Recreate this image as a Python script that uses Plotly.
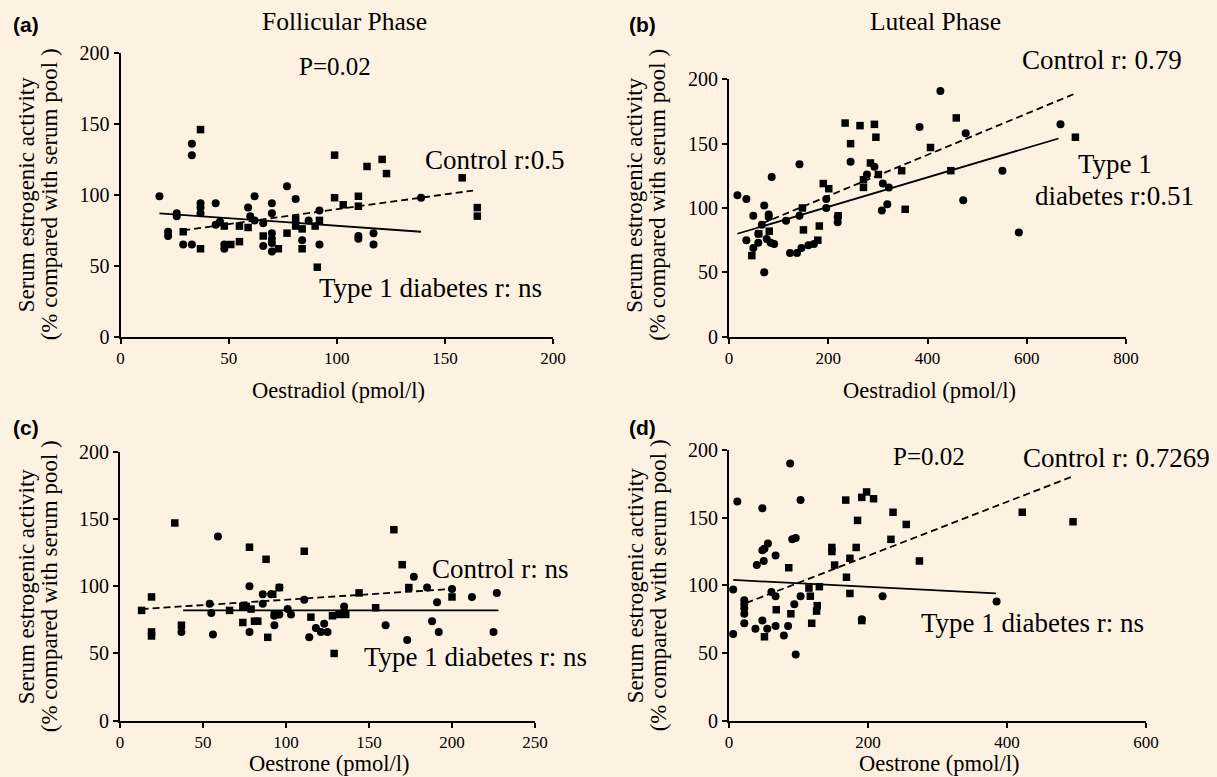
import plotly.graph_objects as go

# ---------------- data ----------------
# Panel (a) Follicular phase, oestradiol
a_t1d_x = [18, 22, 22, 26, 26, 29, 33, 33, 33, 37, 37, 37, 44, 44, 46, 48, 48, 59, 60, 62, 62, 66, 66,
           70, 70, 70, 70, 70, 70, 77, 81, 84, 87, 92, 92, 110, 110, 117, 117, 139]
a_t1d_y = [99, 74, 71, 87, 85, 65, 136, 128, 65, 94, 91, 87, 94, 79, 81, 65, 62, 91, 85, 99, 82, 80, 64,
           94, 87, 73, 69, 66, 60, 106, 97, 68, 82, 89, 65, 71, 69, 73, 65, 98]
a_ctl_x = [37, 99, 114, 121, 123, 158, 165, 165, 99, 103, 110, 110, 29, 37, 48, 51, 55, 55, 59, 66, 73,
           77, 81, 81, 84, 84, 91, 92, 90]
a_ctl_y = [146, 128, 120, 125, 115, 112, 91, 85, 98, 93, 99, 92, 74, 62, 78, 65, 78, 67, 77, 71, 62,
           73, 83, 78, 76, 62, 49, 82, 78]
a_t1d_fit_x = [18, 139]
a_t1d_fit_y = [87, 74]
a_ctl_fit_x = [29, 163]
a_ctl_fit_y = [75, 103]

# Panel (b) Luteal phase, oestradiol
b_t1d_x = [17, 35, 35, 49, 49, 59, 59, 66, 71, 71, 80, 80, 76, 84, 91, 86, 115, 123, 137, 142, 142, 146,
           160, 171, 196, 196, 219, 219, 245, 278, 293, 310, 322, 308, 319, 384, 426, 477, 472, 551, 584, 668]
b_t1d_y = [110, 107, 75, 94, 69, 80, 73, 87, 102, 50, 95, 93, 76, 73, 72, 124, 90, 65, 65, 134, 94, 69,
           71, 72, 107, 100, 93, 89, 136, 126, 132, 119, 116, 98, 103, 163, 191, 158, 106, 129, 81, 165]
b_ctl_x = [46, 60, 81, 150, 148, 182, 179, 190, 201, 234, 245, 264, 293, 296, 285, 271, 271, 301, 348,
           355, 406, 447, 458, 698, 220]
b_ctl_y = [63, 80, 82, 83, 100, 86, 75, 119, 115, 166, 150, 164, 165, 155, 135, 122, 116, 126, 129,
           99, 147, 129, 170, 155, 94]
b_t1d_fit_x = [17, 664]
b_t1d_fit_y = [80, 154]
b_ctl_fit_x = [67, 698]
b_ctl_fit_y = [88, 189]

# Panel (c) Follicular phase, oestrone
c_t1d_x = [37, 54, 55, 56, 59, 78, 78, 86, 86, 91, 93, 93, 96, 96, 101, 103, 111, 114, 118, 121, 125,
           123, 135, 135, 160, 173, 177, 185, 188, 191, 192, 200, 212, 225, 227]
c_t1d_y = [66, 87, 80, 64, 137, 100, 66, 94, 87, 94, 78, 71, 99, 79, 83, 79, 90, 62, 69, 66, 66,
           72, 85, 81, 71, 60, 107, 99, 74, 88, 66, 98, 92, 66, 95]
c_ctl_x = [13, 19, 19, 19, 33, 37, 66, 74, 74, 76, 78, 79, 81, 83, 88, 89, 92, 96, 93, 111, 115, 128,
           132, 136, 129, 144, 154, 165, 170, 174, 200]
c_ctl_y = [82, 92, 66, 63, 147, 71, 82, 85, 73, 85, 129, 83, 74, 74, 120, 62, 94, 99, 79, 126, 77, 78,
           79, 79, 50, 95, 84, 142, 116, 99, 92]
c_t1d_fit_x = [38, 228]
c_t1d_fit_y = [82, 82]
c_ctl_fit_x = [13, 200]
c_ctl_fit_y = [83, 98]

# Panel (d) Luteal phase, oestrone
d_t1d_x = [6, 6, 12, 22, 22, 22, 22, 22, 38, 40, 48, 48, 51, 56, 50, 48, 55, 67, 61, 67, 67, 79, 85,
           88, 91, 96, 94, 96, 103, 103, 221, 191, 385]
d_t1d_y = [97, 64, 162, 89, 86, 83, 79, 72, 68, 115, 157, 126, 127, 131, 118, 74, 68, 122, 95, 92, 70,
           63, 70, 190, 134, 135, 86, 49, 163, 92, 92, 75, 88]
d_ctl_x = [51, 68, 86, 89, 115, 117, 119, 126, 127, 130, 148, 148, 152, 168, 169, 174, 174, 183, 185,
           191, 198, 208, 191, 233, 236, 255, 274, 422, 495]
d_ctl_y = [62, 82, 113, 79, 98, 92, 72, 81, 85, 99, 128, 125, 115, 163, 106, 120, 94, 128, 148,
           165, 169, 164, 74, 134, 154, 145, 118, 154, 147]
d_t1d_fit_x = [6, 384]
d_t1d_fit_y = [104, 94]
d_ctl_fit_x = [25, 497]
d_ctl_fit_y = [87, 181]

x_ranges = [[0, 200], [0, 800], [0, 250], [0, 600]]
x_dticks = [50, 200, 50, 200]
x_titles = ["Oestradiol (pmol/l)", "Oestradiol (pmol/l)", "Oestrone (pmol/l)", "Oestrone (pmol/l)"]
y_title_1 = "Serum estrogenic activity"
y_title_2 = "(% compared with serum pool )"

# ---------------- layout helpers ----------------
W, H = 1217, 777
BG = "#FDF2E2"
SERIF = "Liberation Serif"


def px(x, y):
    return x / W, 1 - y / H


# plot-area pixel boxes (left, right, top, bottom)
boxes = [(120.5, 553, 53, 336.7), (729, 1126, 79.3, 336.7),
         (120, 535, 451.7, 720.7), (729, 1146, 450, 720.7)]
x_title_y = [390, 390, 763, 763]

panels = [
    (a_t1d_x, a_t1d_y, a_ctl_x, a_ctl_y, a_t1d_fit_x, a_t1d_fit_y, a_ctl_fit_x, a_ctl_fit_y),
    (b_t1d_x, b_t1d_y, b_ctl_x, b_ctl_y, b_t1d_fit_x, b_t1d_fit_y, b_ctl_fit_x, b_ctl_fit_y),
    (c_t1d_x, c_t1d_y, c_ctl_x, c_ctl_y, c_t1d_fit_x, c_t1d_fit_y, c_ctl_fit_x, c_ctl_fit_y),
    (d_t1d_x, d_t1d_y, d_ctl_x, d_ctl_y, d_t1d_fit_x, d_t1d_fit_y, d_ctl_fit_x, d_ctl_fit_y),
]

fig = go.Figure()
layout = dict(
    width=W, height=H, paper_bgcolor=BG, plot_bgcolor=BG, autosize=False,
    margin=dict(l=0, r=0, t=0, b=0, pad=0, autoexpand=False), showlegend=False,
    font=dict(family=SERIF, color="black"),
)

annotations = []
for i, (tx, ty, cx, cy, tfx, tfy, cfx, cfy) in enumerate(panels):
    n = "" if i == 0 else str(i + 1)
    xa, ya = "x" + n, "y" + n
    fig.add_trace(go.Scatter(x=tx, y=ty, mode="markers", xaxis=xa, yaxis=ya,
                             marker=dict(symbol="circle", size=8, color="black"),
                             name="Type 1 diabetes", cliponaxis=False))
    fig.add_trace(go.Scatter(x=cx, y=cy, mode="markers", xaxis=xa, yaxis=ya,
                             marker=dict(symbol="square", size=7.5, color="black"),
                             name="Control", cliponaxis=False))
    fig.add_trace(go.Scatter(x=tfx, y=tfy, mode="lines", xaxis=xa, yaxis=ya,
                             line=dict(color="black", width=1.8), name="Type 1 diabetes fit"))
    fig.add_trace(go.Scatter(x=cfx, y=cfy, mode="lines", xaxis=xa, yaxis=ya,
                             line=dict(color="black", width=1.8, dash="7px,4px"), name="Control fit"))
    l, r, t, b = boxes[i]
    x0, y0 = px(l, b)
    x1, y1 = px(r, t)
    common = dict(showgrid=False, zeroline=False, showline=True, linecolor="black", linewidth=2,
                  ticks="outside", ticklen=5, tickwidth=2, tickcolor="black", mirror=False,
                  automargin=False, fixedrange=True)
    layout["xaxis" + n] = dict(domain=[x0, x1], range=x_ranges[i], dtick=x_dticks[i], tick0=0,
                               anchor=ya, tickfont=dict(family=SERIF, size=17, color="black"), **common)
    layout["yaxis" + n] = dict(domain=[y0, y1], range=[0, 200], dtick=50, tick0=0,
                               anchor=xa, tickfont=dict(family=SERIF, size=20, color="black"), **common)
    # x axis title
    xx, yy = px((l + r) / 2 + 2, x_title_y[i])
    annotations.append(dict(x=xx, y=yy, xref="paper", yref="paper", text=x_titles[i], showarrow=False,
                            xanchor="center", yanchor="middle", font=dict(family=SERIF, size=22.5)))
    # y axis title (two lines)
    for txt, off in ((y_title_1, 94), (y_title_2, 71)):
        xx, yy = px(l - off, (t + b) / 2 if i != 1 else (53 + 336.7) / 2)
        annotations.append(dict(x=xx, y=yy, xref="paper", yref="paper", text=txt, showarrow=False,
                                textangle=-90, xanchor="center", yanchor="middle",
                                font=dict(family=SERIF, size=23)))

# panel letters
for lab, (xp, yp) in zip(["(a)", "(b)", "(c)", "(d)"], [(26, 25), (642, 25), (26, 427), (642, 427)]):
    xx, yy = px(xp, yp)
    annotations.append(dict(x=xx, y=yy, xref="paper", yref="paper", text="<b>" + lab + "</b>",
                            showarrow=False, xanchor="center", yanchor="middle",
                            font=dict(family="Liberation Sans", size=21, color="black")))

# titles and statistics text
texts = [
    ("Follicular Phase", 344, 22, 25.5),
    ("Luteal Phase", 935, 22, 25.5),
    ("P=0.02", 335, 67, 25),
    ("Control r:0.5", 495, 160, 27),
    ("Type 1 diabetes r: ns", 430, 288, 27),
    ("Control r: 0.79", 1102, 60, 27),
    ("Type 1", 1115, 164, 27),
    ("diabetes r:0.51", 1114, 196, 27),
    ("Control r: ns", 500, 569, 27),
    ("Type 1 diabetes r: ns", 475, 657, 27),
    ("P=0.02", 929, 456, 25),
    ("Control r: 0.7269", 1116, 458, 27),
    ("Type 1 diabetes r: ns", 1032, 623, 27),
]
for txt, xp, yp, sz in texts:
    xx, yy = px(xp, yp)
    annotations.append(dict(x=xx, y=yy, xref="paper", yref="paper", text=txt, showarrow=False,
                            xanchor="center", yanchor="middle", font=dict(family=SERIF, size=sz)))

layout["annotations"] = annotations
fig.update_layout(**layout)
fig.write_html("out.html", config={"displayModeBar": False},
               post_script="document.body.style.margin='0';document.body.style.overflow='hidden';")
